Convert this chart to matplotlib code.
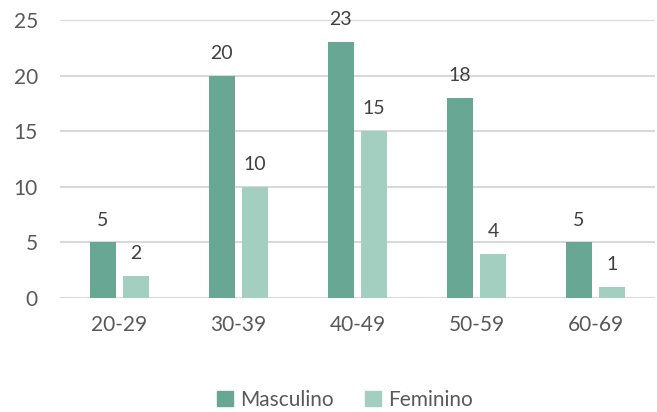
import numpy as np
import matplotlib
matplotlib.use('Agg')
import matplotlib.pyplot as plt
from matplotlib.patches import Patch

# data
categories = ['20-29', '30-39', '40-49', '50-59', '60-69']
masculino = [5, 20, 23, 18, 5]
feminino = [2, 10, 15, 4, 1]

dark = '#67a793'
light = '#a3cfc0'
text_color = '#595959'

plt.rcParams['font.family'] = ['Lato', 'DejaVu Sans']

fig = plt.figure(figsize=(6.57, 4.12), dpi=100)
ax = fig.add_axes([60/657, 1 - 298/412, 595/657, 278/412])

x = np.arange(len(categories))
w = 0.22
off = 0.14
b1 = ax.bar(x - off, masculino, w, color=dark, zorder=3)
b2 = ax.bar(x + off, feminino, w, color=light, zorder=3)

# value labels above each bar
for bars in (b1, b2):
    for rect in bars:
        ax.annotate(f'{int(rect.get_height())}',
                    (rect.get_x() + rect.get_width()/2, rect.get_height()),
                    xytext=(0, 10), textcoords='offset points',
                    ha='center', va='bottom', fontsize=14, color='#404040')

ax.set_xlim(-0.5, len(categories) - 0.5)
ax.set_ylim(0, 25)
ax.set_yticks([0, 5, 10, 15, 20, 25])
ax.set_xticks(x)
ax.set_xticklabels(categories)
ax.yaxis.grid(True, color='#d9d9d9', linewidth=1.5, zorder=0)
ax.set_axisbelow(True)
for s in ax.spines.values():
    s.set_visible(False)
ax.tick_params(axis='both', length=0, labelsize=15, colors=text_color)
ax.tick_params(axis='y', pad=16)
ax.tick_params(axis='x', pad=12)

handles = [Patch(color=dark, label='Masculino'), Patch(color=light, label='Feminino')]
fig.legend(handles=handles, loc='center', bbox_to_anchor=(0.525, 1 - 400/412),
           ncol=2, frameon=False, fontsize=15, labelcolor=text_color,
           handlelength=0.75, handleheight=0.75, handletextpad=0.35, columnspacing=1.5)

fig.savefig('out.png', dpi=100)
